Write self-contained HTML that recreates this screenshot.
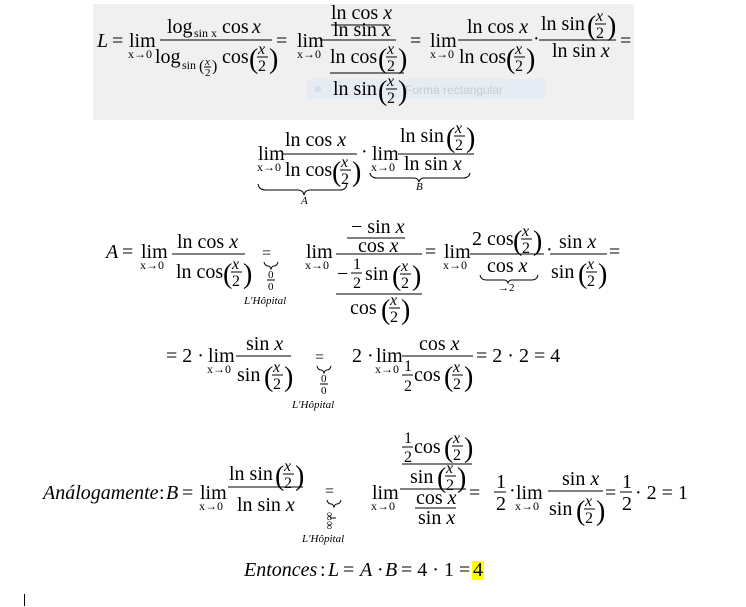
<!DOCTYPE html>
<html><head><meta charset="utf-8"><style>
html,body{margin:0;padding:0;background:#fff;width:746px;height:607px;overflow:hidden}
svg{display:block}
text{font-family:"Liberation Serif",serif;font-size:20px;fill:#000}
.i{font-style:italic}
.s{font-size:12px}
.t{font-size:11px}
.m{font-size:16px}
.p{font-size:28px}
line{stroke:#000;stroke-width:1}
path{stroke:#000;fill:none;stroke-width:1}
</style></head><body>
<svg width="746" height="607" viewBox="0 0 746 607">
<rect x="93" y="4" width="541" height="116" fill="#f0f0f0"/>
<rect x="307" y="79" width="238" height="20" fill="#e6ecf3"/>
<circle cx="318" cy="89" r="3" fill="#d8dde3"/>
<text x="405" y="94" style="font-family:'Liberation Sans',sans-serif;font-size:12px;fill:#c8ccd0">Forma rectangular</text>

<!-- Line 1 -->
<text x="97" y="47" class="i">L</text><text x="112" y="47">=</text>
<text x="129" y="47">lim</text><text x="128" y="58" class="s">x→0</text>
<text x="167" y="33">log</text><text x="194" y="37" class="s">sin x</text><text x="222" y="33">cos</text><text x="252" y="33" class="i">x</text>
<line x1="160" y1="40" x2="272" y2="40"/>
<text x="155" y="63">log</text><text x="182" y="69" class="s">sin</text><text x="199" y="71" class="m">(</text><text x="205" y="65" class="t i">x</text><line x1="204" y1="67" x2="211" y2="67"/><text x="205" y="76" class="t">2</text><text x="212" y="71" class="m">)</text>
<text x="222" y="63">cos</text>
<text x="249" y="68" class="p">(</text><text x="258" y="54" class="m i">x</text><line x1="257" y1="57" x2="268" y2="57"/><text x="258" y="71" class="m">2</text><text x="269" y="68" class="p">)</text>

<text x="276" y="47">=</text><text x="297" y="47">lim</text><text x="297" y="58" class="s">x→0</text>
<text x="331" y="19">ln cos <tspan class="i">x</tspan></text><line x1="331" y1="25" x2="389" y2="25"/>
<text x="333" y="36">ln sin <tspan class="i">x</tspan></text>
<line x1="320" y1="40" x2="396" y2="40"/>
<text x="330" y="63">ln cos</text>
<text x="378" y="68" class="p">(</text><text x="387" y="54" class="m i">x</text><line x1="386" y1="57" x2="397" y2="57"/><text x="387" y="71" class="m">2</text><text x="398" y="68" class="p">)</text>
<line x1="330" y1="73" x2="404" y2="73"/>
<text x="333" y="95">ln sin</text>
<text x="378" y="100" class="p">(</text><text x="387" y="86" class="m i">x</text><line x1="386" y1="89" x2="397" y2="89"/><text x="387" y="103" class="m">2</text><text x="398" y="100" class="p">)</text>

<text x="410" y="47">=</text><text x="430" y="47">lim</text><text x="430" y="58" class="s">x→0</text>
<text x="467" y="33">ln cos <tspan class="i">x</tspan></text>
<line x1="458" y1="40" x2="532" y2="40"/>
<text x="459" y="63">ln cos</text>
<text x="506" y="68" class="p">(</text><text x="515" y="54" class="m i">x</text><line x1="514" y1="57" x2="525" y2="57"/><text x="515" y="71" class="m">2</text><text x="526" y="68" class="p">)</text>
<text x="533" y="45">·</text>
<text x="541" y="30">ln sin</text>
<text x="587" y="35" class="p">(</text><text x="596" y="21" class="m i">x</text><line x1="595" y1="24" x2="606" y2="24"/><text x="596" y="38" class="m">2</text><text x="607" y="35" class="p">)</text>
<line x1="539" y1="40" x2="616" y2="40"/>
<text x="552" y="57">ln sin <tspan class="i">x</tspan></text>
<text x="620" y="47">=</text>

<!-- Line 2 -->
<text x="258" y="160">lim</text><text x="257" y="171" class="s">x→0</text>
<text x="285" y="146">ln cos <tspan class="i">x</tspan></text>
<line x1="283" y1="154" x2="357" y2="154"/>
<text x="285" y="176">ln cos</text>
<text x="332" y="181" class="p">(</text><text x="341" y="167" class="m i">x</text><line x1="340" y1="170" x2="351" y2="170"/><text x="341" y="184" class="m">2</text><text x="352" y="181" class="p">)</text>
<path d="M258 184 Q259 190 266 190 L298 190 Q303 190 304 195 Q305 190 310 190 L340 190 Q346 190 347 184"/>
<text x="301" y="204" class="t i">A</text>
<text x="361" y="158">·</text>
<text x="372" y="160">lim</text><text x="371" y="171" class="s">x→0</text>
<text x="400" y="142">ln sin</text>
<text x="446" y="147" class="p">(</text><text x="455" y="133" class="m i">x</text><line x1="454" y1="136" x2="465" y2="136"/><text x="455" y="150" class="m">2</text><text x="466" y="147" class="p">)</text>
<line x1="398" y1="154" x2="474" y2="154"/>
<text x="404" y="170">ln sin <tspan class="i">x</tspan></text>
<path d="M370 173 Q371 178 377 178 L414 178 Q418 178 419 182 Q420 178 424 178 L463 178 Q469 178 470 173"/>
<text x="416" y="190" class="t i">B</text>

<!-- Line 3 -->
<text x="106" y="258" class="i">A</text><text x="122" y="258">=</text>
<text x="141" y="258">lim</text><text x="140" y="269" class="s">x→0</text>
<text x="177" y="248">ln cos <tspan class="i">x</tspan></text>
<line x1="172" y1="254" x2="245" y2="254"/>
<text x="176" y="278">ln cos</text>
<text x="223" y="283" class="p">(</text><text x="232" y="269" class="m i">x</text><line x1="231" y1="272" x2="242" y2="272"/><text x="232" y="286" class="m">2</text><text x="243" y="283" class="p">)</text>
<text x="262" y="258" class="m">=</text>
<path d="M264 262 Q265 266 268 266 Q270 266 271 269 Q272 266 274 266 Q277 266 278 262"/>
<text x="268" y="278" class="t">0</text><line x1="267" y1="280" x2="275" y2="280"/><text x="268" y="290" class="t">0</text>
<text x="244" y="304" class="t i">L′Hôpital</text>

<text x="306" y="258">lim</text><text x="305" y="269" class="s">x→0</text>
<text x="351" y="233">− sin <tspan class="i">x</tspan></text>
<line x1="347" y1="238" x2="405" y2="238"/>
<text x="358" y="252">cos <tspan class="i">x</tspan></text>
<line x1="336" y1="254" x2="422" y2="254"/>
<text x="337" y="280">−</text>
<text x="353" y="269" class="m">1</text><line x1="351" y1="273" x2="362" y2="273"/><text x="353" y="288" class="m">2</text>
<text x="365" y="280">sin</text>
<text x="392" y="285" class="p">(</text><text x="401" y="271" class="m i">x</text><line x1="400" y1="274" x2="411" y2="274"/><text x="401" y="288" class="m">2</text><text x="412" y="285" class="p">)</text>
<line x1="336" y1="294" x2="422" y2="294"/>
<text x="350" y="314">cos</text>
<text x="381" y="319" class="p">(</text><text x="390" y="305" class="m i">x</text><line x1="389" y1="308" x2="400" y2="308"/><text x="390" y="322" class="m">2</text><text x="401" y="319" class="p">)</text>

<text x="425" y="258">=</text><text x="444" y="258">lim</text><text x="443" y="269" class="s">x→0</text>
<text x="472" y="245">2 cos</text>
<text x="513" y="250" class="p">(</text><text x="522" y="236" class="m i">x</text><line x1="521" y1="239" x2="532" y2="239"/><text x="522" y="253" class="m">2</text><text x="533" y="250" class="p">)</text>
<line x1="470" y1="254" x2="544" y2="254"/>
<text x="487" y="272">cos <tspan class="i">x</tspan></text>
<path d="M480 275 Q481 280 486 280 L504 280 Q507 280 508 283 Q509 280 512 280 L532 280 Q537 280 538 275"/>
<text x="498" y="291" class="t">→2</text>
<text x="546" y="256">·</text>
<text x="559" y="248">sin <tspan class="i">x</tspan></text>
<line x1="550" y1="254" x2="607" y2="254"/>
<text x="551" y="278">sin</text>
<text x="578" y="283" class="p">(</text><text x="587" y="269" class="m i">x</text><line x1="586" y1="272" x2="597" y2="272"/><text x="587" y="286" class="m">2</text><text x="598" y="283" class="p">)</text>
<text x="609" y="258">=</text>

<!-- Line 4 -->
<text x="166" y="362">= 2 ·</text>
<text x="208" y="362">lim</text><text x="207" y="373" class="s">x→0</text>
<text x="246" y="350">sin <tspan class="i">x</tspan></text>
<line x1="236" y1="356" x2="291" y2="356"/>
<text x="237" y="381">sin</text>
<text x="264" y="386" class="p">(</text><text x="273" y="372" class="m i">x</text><line x1="272" y1="375" x2="283" y2="375"/><text x="273" y="389" class="m">2</text><text x="284" y="386" class="p">)</text>
<text x="315" y="362" class="m">=</text>
<path d="M317 366 Q318 370 321 370 Q323 370 324 373 Q325 370 327 370 Q330 370 331 366"/>
<text x="321" y="382" class="t">0</text><line x1="320" y1="384" x2="328" y2="384"/><text x="321" y="394" class="t">0</text>
<text x="292" y="408" class="t i">L′Hôpital</text>
<text x="352" y="362">2 ·</text>
<text x="376" y="362">lim</text><text x="375" y="373" class="s">x→0</text>
<text x="419" y="350">cos <tspan class="i">x</tspan></text>
<line x1="402" y1="356" x2="473" y2="356"/>
<text x="404" y="371" class="m">1</text><line x1="402" y1="375" x2="413" y2="375"/><text x="404" y="391" class="m">2</text>
<text x="414" y="381">cos</text>
<text x="444" y="386" class="p">(</text><text x="453" y="372" class="m i">x</text><line x1="452" y1="375" x2="463" y2="375"/><text x="453" y="389" class="m">2</text><text x="464" y="386" class="p">)</text>
<text x="476" y="362">= 2 · 2 = 4</text>

<!-- Line 5 -->
<text x="43" y="499" class="i">Análogamente</text><text x="159" y="499">:</text>
<text x="166" y="499" class="i">B</text><text x="182" y="499">=</text>
<text x="200" y="499">lim</text><text x="199" y="510" class="s">x→0</text>
<text x="229" y="480">ln sin</text>
<text x="275" y="485" class="p">(</text><text x="284" y="471" class="m i">x</text><line x1="283" y1="474" x2="294" y2="474"/><text x="284" y="488" class="m">2</text><text x="295" y="485" class="p">)</text>
<line x1="228" y1="487" x2="303" y2="487"/>
<text x="237" y="511">ln sin <tspan class="i">x</tspan></text>
<text x="325" y="496" class="m">=</text>
<path d="M327 500 Q328 504 331 504 Q333 504 334 507 Q335 504 337 504 Q340 504 341 500"/>
<text x="0" y="0" class="s" transform="translate(326,512) rotate(90)">∞</text>
<line x1="330" y1="518" x2="336" y2="518"/>
<text x="0" y="0" class="s" transform="translate(326,521) rotate(90)">∞</text>
<text x="302" y="542" class="t i">L′Hôpital</text>

<text x="372" y="499">lim</text><text x="371" y="510" class="s">x→0</text>
<text x="404" y="443" class="m">1</text><line x1="402" y1="447" x2="413" y2="447"/><text x="404" y="462" class="m">2</text>
<text x="414" y="453">cos</text>
<text x="444" y="457" class="p">(</text><text x="453" y="443" class="m i">x</text><line x1="452" y1="446" x2="463" y2="446"/><text x="453" y="460" class="m">2</text><text x="464" y="457" class="p">)</text>
<line x1="402" y1="464" x2="472" y2="464"/>
<text x="410" y="483">sin</text>
<text x="437" y="487" class="p">(</text><text x="446" y="473" class="m i">x</text><line x1="445" y1="476" x2="456" y2="476"/><text x="446" y="490" class="m">2</text><text x="457" y="487" class="p">)</text>
<line x1="400" y1="489" x2="466" y2="489"/>
<text x="416" y="504">cos <tspan class="i">x</tspan></text>
<line x1="415" y1="508" x2="456" y2="508"/>
<text x="418" y="524">sin <tspan class="i">x</tspan></text>
<text x="469" y="499">=</text>
<text x="496" y="488">1</text><line x1="494" y1="492" x2="506" y2="492"/><text x="496" y="510">2</text>
<text x="509" y="497">·</text>
<text x="516" y="499">lim</text><text x="515" y="510" class="s">x→0</text>
<text x="562" y="485">sin <tspan class="i">x</tspan></text>
<line x1="548" y1="491" x2="603" y2="491"/>
<text x="549" y="515">sin</text>
<text x="576" y="520" class="p">(</text><text x="585" y="506" class="m i">x</text><line x1="584" y1="509" x2="595" y2="509"/><text x="585" y="523" class="m">2</text><text x="596" y="520" class="p">)</text>
<text x="605" y="499">=</text>
<text x="622" y="488">1</text><line x1="620" y1="492" x2="632" y2="492"/><text x="622" y="510">2</text>
<text x="635" y="499">· 2 = 1</text>

<!-- Line 6 -->
<text x="244" y="576" class="i">Entonces</text><text x="320" y="576">:</text>
<text x="328" y="576" class="i">L</text><text x="343" y="576">=</text>
<text x="360" y="576" class="i">A</text><text x="377" y="576">·</text><text x="385" y="576" class="i">B</text>
<text x="401" y="576">= 4 · 1 =</text>
<rect x="472" y="561" width="12" height="19" fill="#ffff00"/>
<text x="473" y="576">4</text>

<line x1="24.5" y1="594" x2="24.5" y2="606"/>
</svg>
</body></html>
